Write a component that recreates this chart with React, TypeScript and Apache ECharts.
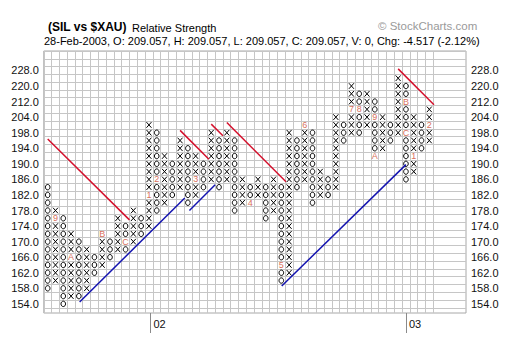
import React, { useEffect, useRef } from "react";
import * as echarts from "echarts";

// Box scale: price of each row (2-point boxes up to 200, 4-point boxes above)
const boxPrices = [154, 156, 158, 160, 162, 164, 166, 168, 170, 172, 174, 176, 178, 180, 182, 184, 186, 188, 190, 192, 194, 196, 198, 200, 204, 208, 212, 216, 220, 224, 228, 232, 236];

// Point & figure columns
const columnTypes = ["O","X","O","X","O","X","O","X","O","X","O","X","O","X","O","X","O","X","O","X","O","X","O","X","O","X","O","X","O","X","O","X","O","X","O","X","O","X","O","X","O","X","O","X","O","X","O","X","O","X"];
const columnLows = [158, 160, 154, 156, 156, 158, 162, 164, 166, 168, 168, 170, 172, 174, 178, 180, 182, 184, 180, 182, 184, 186, 184, 186, 178, 180, 180, 182, 176, 178, 160, 162, 184, 186, 180, 182, 182, 184, 196, 198, 198, 200, 192, 194, 196, 198, 186, 188, 194, 196];
const columnHighs = [184, 178, 176, 172, 170, 168, 166, 172, 170, 176, 174, 178, 176, 200, 198, 192, 190, 196, 194, 192, 190, 198, 196, 198, 196, 186, 184, 186, 184, 186, 184, 198, 196, 200, 198, 188, 186, 204, 200, 220, 216, 216, 212, 204, 200, 224, 220, 204, 200, 208];

// Month markers (replace the box they sit in)
const markerColumns = [1, 3, 7, 10, 13, 14, 19, 26, 30, 33, 39, 40, 42, 42, 46, 46, 47, 49];
const markerPrices = [176, 166, 172, 170, 182, 186, 186, 180, 164, 200, 208, 208, 204, 192, 212, 198, 192, 200];
const markerLabels = ["9", "A", "B", "C", "1", "2", "3", "4", "5", "6", "7", "8", "9", "A", "B", "C", "1", "2"];

// Axis labels
const yLabelPrices = [154, 158, 162, 166, 170, 174, 178, 182, 186, 190, 194, 198, 204, 212, 220, 228];
const xTickColumns = [13.2, 46];
const xTickLabels = ["02", "03"];

// Trend lines [column, box row]
const redLines = [
  [[0, 21.2], [10.5, 10.8]],
  [[17, 22.3], [20.7, 18.6]],
  [[21, 23.1], [22.5, 21.6]],
  [[23, 23.3], [30.6, 15.7]],
  [[45, 30.2], [49.6, 25.6]],
];
const blueLines = [
  [[4.1, 0.25], [17.6, 13.6]],
  [[18.2, 12.0], [21.5, 15.3]],
  [[30.05, 2.3], [46, 17.9]],
];

const FONT = "'Liberation Sans', Arial, Helvetica, sans-serif";
const L = 43.8, T = 51, PW = 422.2, PH = 262, COLW = 7.788, ROWH = 7.781;
const GRID_C = "#c6c6c6";

const rowOf = (p: number) => boxPrices.indexOf(p);

export default function App() {
  const ref = useRef<HTMLDivElement>(null);
  useEffect(() => {
    const chart = echarts.init(ref.current!, null, { renderer: "svg" });

    const markerKey = new Set(markerColumns.map((c, i) => c + ":" + rowOf(markerPrices[i])));
    const boxes: number[][] = [];
    columnTypes.forEach((t, c) => {
      for (let r = rowOf(columnLows[c]); r <= rowOf(columnHighs[c]); r++) {
        if (markerKey.has(c + ":" + r)) continue;
        boxes.push([c, r, t === "X" ? 1 : 0]);
      }
    });
    const markerData = markerColumns.map((c, i) => [c, rowOf(markerPrices[i]), i]);

    const yLabel = (v: number) => {
      const p = boxPrices[Math.round(v)];
      return yLabelPrices.includes(p) ? p.toFixed(1) : "";
    };
    const yLabelAxis = (pos: "left" | "right", margin: number) => ({
      gridIndex: 3, type: "value", min: 0, max: 30, interval: 2, position: pos,
      axisLine: { show: false }, axisTick: { show: false }, splitLine: { show: false },
      axisLabel: { formatter: yLabel, margin, fontSize: 11, fontFamily: FONT, color: "#111", padding: [8, 0, 0, 0], showMinLabel: true, showMaxLabel: true },
    });

    const option: any = {
      animation: false,
      grid: [
        { left: L, top: T, width: PW, height: PH, show: true, borderColor: "#a8a8a8", borderWidth: 1 },
        { left: L, top: T, width: PW, height: 33 * ROWH },
        { left: L, top: T, width: 50 * COLW, height: PH },
        { left: L, top: T + 2.5 * ROWH, width: PW, height: 30 * ROWH },
        { left: L + (xTickColumns[0] + 0.5) * COLW, top: T, width: (xTickColumns[1] - xTickColumns[0]) * COLW, height: PH },
      ],
      xAxis: [
        { gridIndex: 0, type: "value", min: -0.5, max: -0.5 + PW / COLW, show: false },
        { gridIndex: 1, type: "value", min: 0, max: 1, show: false },
        {
          gridIndex: 2, type: "value", min: -0.5, max: 49.5, interval: 1,
          axisLine: { show: false }, axisTick: { show: false }, axisLabel: { show: false },
          splitLine: { show: true, lineStyle: { color: GRID_C, width: 1 } },
        },
        { gridIndex: 3, type: "value", min: 0, max: 1, show: false },
        {
          gridIndex: 4, type: "value", min: xTickColumns[0], max: xTickColumns[1],
          interval: xTickColumns[1] - xTickColumns[0], position: "bottom",
          axisLine: { show: false }, splitLine: { show: false },
          axisTick: { show: true, length: 20, lineStyle: { color: "#8a8a8a", width: 1 } },
          axisLabel: {
            formatter: (v: number) => {
              const i = xTickColumns.findIndex((c) => Math.abs(c - v) < 0.01);
              return i >= 0 ? xTickLabels[i] : "";
            },
            align: "left", margin: 5, padding: [0, 0, 0, 3], fontSize: 11, fontFamily: FONT, color: "#111",
            showMinLabel: true, showMaxLabel: true,
          },
        },
      ],
      yAxis: [
        { gridIndex: 0, type: "value", min: 32.5 - PH / ROWH, max: 32.5, show: false },
        {
          gridIndex: 1, type: "value", min: -0.5, max: 32.5, interval: 1,
          axisLine: { show: false }, axisTick: { show: false }, axisLabel: { show: false },
          splitLine: { show: true, lineStyle: { color: GRID_C, width: 1 } },
        },
        { gridIndex: 2, type: "value", min: 0, max: 1, show: false },
        yLabelAxis("left", 5),
        yLabelAxis("right", 5),
        { gridIndex: 4, type: "value", min: 0, max: 1, show: false },
      ],
      graphic: [
        { type: "text", x: 48, y: 27, style: { text: "(SIL vs $XAU)", font: `bold 12px ${FONT}`, fill: "#000", verticalAlign: "middle", textVerticalAlign: "middle" } },
        { type: "text", x: 132, y: 28, style: { text: "Relative Strength", font: `11px ${FONT}`, fill: "#000", verticalAlign: "middle", textVerticalAlign: "middle" } },
        { type: "text", x: 44, y: 40.5, style: { text: "28-Feb-2003, O: 209.057, H: 209.057, L: 209.057, C: 209.057, V: 0, Chg: -4.517 (-2.12%)", font: `11px ${FONT}`, fill: "#000", verticalAlign: "middle", textVerticalAlign: "middle" } },
        { type: "text", x: 378, y: 25.5, style: { text: "© StockCharts.com", font: `11.5px ${FONT}`, fill: "#9a9a9a", verticalAlign: "middle", textVerticalAlign: "middle" } },
      ],
      series: [
        {
          type: "custom", xAxisIndex: 0, yAxisIndex: 0, data: boxes, z: 3, silent: true,
          renderItem: (params: any, api: any) => {
            const pt = api.coord([api.value(0), api.value(1)]);
            const x = pt[0], y = pt[1];
            if (api.value(2) === 1) {
              const st = { stroke: "#000", lineWidth: 1, fill: null };
              return {
                type: "group",
                children: [
                  { type: "line", shape: { x1: x - 2.5, y1: y - 2.8, x2: x + 2.5, y2: y + 2.8 }, style: st },
                  { type: "line", shape: { x1: x - 2.5, y1: y + 2.8, x2: x + 2.5, y2: y - 2.8 }, style: st },
                ],
              };
            }
            return { type: "ellipse", shape: { cx: x, cy: y, rx: 2.3, ry: 2.7 }, style: { fill: "none", stroke: "#000", lineWidth: 1 } };
          },
        },
        {
          type: "custom", xAxisIndex: 0, yAxisIndex: 0, data: markerData, z: 4, silent: true,
          renderItem: (params: any, api: any) => {
            const pt = api.coord([api.value(0), api.value(1)]);
            return {
              type: "text",
              style: {
                text: markerLabels[api.value(2)], x: pt[0], y: pt[1],
                fill: "#d8705c", font: `9px ${FONT}`,
                align: "center", verticalAlign: "middle", textAlign: "center", textVerticalAlign: "middle",
              },
            };
          },
        },
        ...redLines.map((seg) => ({
          type: "line", xAxisIndex: 0, yAxisIndex: 0, data: seg, symbol: "none", silent: true, z: 5, clip: false,
          lineStyle: { color: "#d4102c", width: 1.5 },
        })),
        ...blueLines.map((seg) => ({
          type: "line", xAxisIndex: 0, yAxisIndex: 0, data: seg, symbol: "none", silent: true, z: 5, clip: false,
          lineStyle: { color: "#1414b0", width: 1.5 },
        })),
      ],
    };
    chart.setOption(option);
    return () => chart.dispose();
  }, []);
  return <div ref={ref} style={{ position: "absolute", left: 0, top: 0, width: 520, height: 350, background: "#fff" }} />;
}
